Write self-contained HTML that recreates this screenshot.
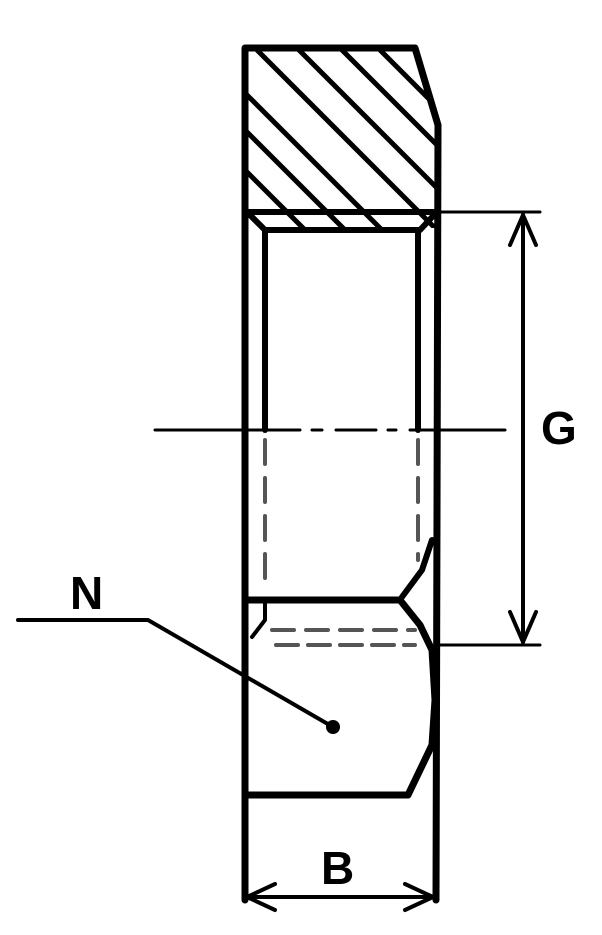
<!DOCTYPE html>
<html><head><style>body{margin:0;background:#fff}svg{display:block}</style></head><body>
<svg width="602" height="935" viewBox="0 0 602 935" xmlns="http://www.w3.org/2000/svg">
<defs>
<clipPath id="h"><polygon points="247,50 414,50 436,125 436,228 247,228"/></clipPath>
</defs>
<g stroke="#000" fill="none" stroke-linecap="round" stroke-linejoin="round">
<g clip-path="url(#h)" stroke-width="5">
<line x1="245" y1="170" x2="320" y2="245"/>
<line x1="245" y1="130" x2="360" y2="245"/>
<line x1="245" y1="93" x2="397" y2="245"/>
<line x1="255" y1="48" x2="452" y2="245"/>
<line x1="297" y1="48" x2="494" y2="245"/>
<line x1="340" y1="48" x2="537" y2="245"/>
<line x1="378" y1="48" x2="575" y2="245"/>
</g>
<path d="M245,900 L245,48 L415,48 L438,125 L436,900" stroke-width="7"/>
<line x1="245" y1="212" x2="436" y2="212" stroke-width="6"/>
<path d="M250,215 L265,230 L420,230 L434,215" stroke-width="6"/>
<line x1="265" y1="230" x2="265" y2="430" stroke-width="6"/>
<line x1="418" y1="230" x2="418" y2="430" stroke-width="6"/>
<line x1="265" y1="440" x2="265" y2="590" stroke-width="4" stroke="#555" stroke-dasharray="24,14"/>
<line x1="418" y1="440" x2="418" y2="560" stroke-width="4" stroke="#555" stroke-dasharray="24,14"/>
<line x1="245" y1="600" x2="400" y2="600" stroke-width="7"/>
<path d="M400,600 L420,625 L432,650 L435,700 L432,745 L408,795 L245,795" stroke-width="7"/>
<path d="M402,597 L422,570 L432,540" stroke-width="6"/>
<path d="M265,600 L265,620 L252,637" stroke-width="4"/>
<line x1="272" y1="630" x2="415" y2="630" stroke-width="4" stroke="#555" stroke-dasharray="22,12"/>
<line x1="276" y1="645" x2="415" y2="645" stroke-width="4" stroke="#555" stroke-dasharray="22,10"/>
<path d="M155,430 H300 M312,430 H322 M336,430 H376 M388,430 H396 M410,430 H505" stroke-width="3"/>
<line x1="436" y1="212" x2="540" y2="212" stroke-width="3"/>
<line x1="436" y1="645" x2="540" y2="645" stroke-width="3"/>
<line x1="523" y1="215" x2="523" y2="642" stroke-width="4"/>
<path d="M510,245 L523,215 L536,245 M510,612 L523,642 L536,612" stroke-width="4"/>
<line x1="247" y1="897" x2="433" y2="897" stroke-width="4"/>
<path d="M275,884 L247,897 L275,910 M405,884 L433,897 L405,910" stroke-width="4"/>
<path d="M18,620 L148,620 L333,727" stroke-width="4"/>
</g>
<circle cx="333" cy="727" r="7" fill="#000"/>
<g font-family="Liberation Sans, sans-serif" font-weight="bold" font-size="46" fill="#000">
<text x="541" y="444">G</text>
<text x="321" y="884">B</text>
<text x="70" y="609">N</text>
</g>
</svg>
</body></html>
